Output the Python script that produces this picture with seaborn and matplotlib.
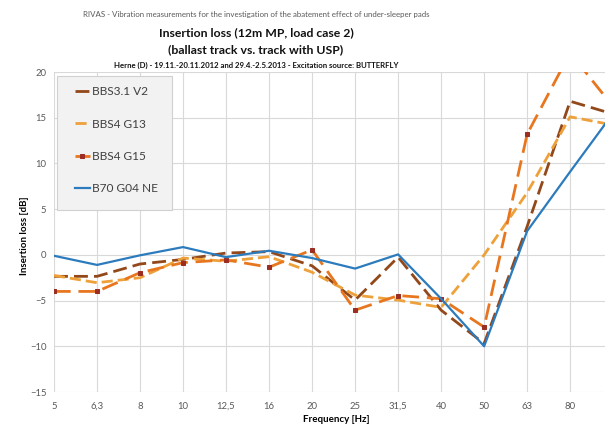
import numpy as np
import pandas as pd
import matplotlib
matplotlib.use("Agg")
import matplotlib.pyplot as plt
from matplotlib.patches import Rectangle
import seaborn as sb

freqs = ['5', '6,3', '8', '10', '12,5', '16', '20', '25', '31,5', '40', '50', '63', '80', '100']

bbs31_v2 = [-2.35, -2.35, -1.0, -0.5, 0.2, 0.35, -1.2, -4.95, -0.25, -6.05, -9.7, 3.1, 16.8, 15.4]
bbs4_g13 = [-2.25, -3.05, -2.5, -0.35, -0.7, -0.2, -1.9, -4.4, -4.95, -5.75, 0.0, 6.8, 15.1, 14.2]
bbs4_g15 = [-4.0, -4.0, -1.95, -0.85, -0.55, -1.35, 0.55, -6.05, -4.45, -4.8, -7.9, 13.2, 22.1, 16.2]
b70_g04 = [-0.1, -1.1, -0.05, 0.85, -0.25, 0.45, -0.35, -1.5, 0.05, -4.8, -10.0, 2.6, 9.1, 15.5]

series = {
    'BBS3.1 V2': bbs31_v2,
    'BBS4 G13': bbs4_g13,
    'BBS4 G15': bbs4_g15,
    'B70 G04 NE': b70_g04,
}
styles = {
    'BBS3.1 V2': dict(color='#93481a', linestyle=(0, (5, 2.2)), linewidth=2.0),
    'BBS4 G13': dict(color='#eea13a', linestyle=(0, (4, 1.8)), linewidth=2.0),
    'BBS4 G15': dict(color='#e8761f', linestyle=(0, (6, 2.8)), linewidth=2.0,
                     marker='s', markersize=2.2, markerfacecolor='#9b2d22',
                     markeredgecolor='#9b2d22'),
    'B70 G04 NE': dict(color='#2b7bbd', linestyle='-', linewidth=1.6),
}

plt.rcParams['font.family'] = ['Lato', 'DejaVu Sans']

W, H = 605, 425
fig = plt.figure(figsize=(W / 100, H / 100), dpi=100)
ax = fig.add_axes([54 / W, 1 - 392 / H, (W - 54) / W, 320 / H])

for name, vals in series.items():
    df = pd.DataFrame({'f': freqs, 'v': vals})
    sb.lineplot(data=df, x='f', y='v', sort=False, ax=ax, label=name, **styles[name])

ax.set_xlim(0, 12.81)
ax.set_ylim(-15, 20)
ax.set_yticks(np.arange(-15, 21, 5))
ax.grid(True, color='#d9d9d9', linewidth=0.8)
ax.set_axisbelow(True)
for s in ax.spines.values():
    s.set_visible(False)
ax.tick_params(length=0, labelsize=6.8, labelcolor='#595959')
ax.tick_params(axis='x', pad=7)
ax.tick_params(axis='y', pad=5.5)

ax.set_xlabel('Frequency [Hz]', fontsize=7, fontweight='bold')
ax.set_ylabel('Insertion loss [dB]', fontsize=7, fontweight='bold')
ax.xaxis.set_label_coords((336 - 54) / 551, (392 - 420) / 320)
ax.yaxis.set_label_coords((25 - 54) / 551, (392 - 236) / 320)
ax.xaxis.label.set_va('center')
ax.yaxis.label.set_va('center')

# legend box
ax.add_patch(Rectangle((57 / W, 1 - 210 / H), 115 / W, 134 / H, transform=fig.transFigure,
                       facecolor='#f2f2f2', edgecolor='#d0d0d0', linewidth=0.8, zorder=4))
leg = ax.legend(loc='upper left', bbox_to_anchor=(75 / W, 1 - 86 / H),
                bbox_transform=fig.transFigure, fontsize=8.6, frameon=False,
                handlelength=1.25, handletextpad=0.15, labelspacing=1.8,
                borderpad=0, borderaxespad=0, numpoints=1)
leg.set_zorder(5)
for t in leg.get_texts():
    t.set_color('#404040')

cx = 256 / W
fig.text(cx, 1 - 15 / H, 'RIVAS - Vibration measurements for the investigation of the abatement effect of under-sleeper pads',
         ha='center', va='center', fontsize=5.7, color='#595959')
fig.text(cx, 1 - 33 / H, 'Insertion loss (12m MP, load case 2)', ha='center', va='center',
         fontsize=8.8, fontweight='bold', color='#111111')
fig.text(cx, 1 - 50 / H, '(ballast track vs. track with USP)', ha='center', va='center',
         fontsize=8.8, fontweight='bold', color='#111111')
fig.text(cx, 1 - 65 / H, 'Herne (D) - 19.11.-20.11.2012 and 29.4.-2.5.2013 - Excitation source: BUTTERFLY',
         ha='center', va='center', fontsize=5.55, fontweight='bold', color='#111111')

fig.savefig('out.png', dpi=100)
